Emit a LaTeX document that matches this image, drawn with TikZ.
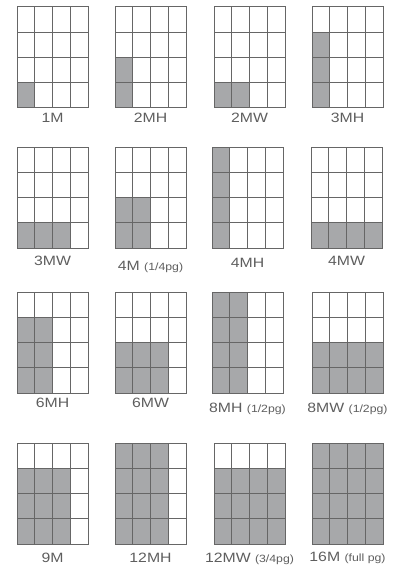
\documentclass[tikz,border=0pt]{standalone}
\usepackage{fontspec}
\setmainfont{Liberation Sans}
\newfontfamily\labfont[FakeStretch=1.17]{Liberation Sans}
\definecolor{gridline}{HTML}{666666}
\definecolor{cellfill}{HTML}{A7A8AA}
\definecolor{labelgray}{HTML}{5E5E5E}
\tikzset{
  gridstroke/.style={draw=gridline, line width=1pt},
  filled/.style={fill=cellfill},
  lab/.style={anchor=base, inner sep=0pt, text=labelgray, font=\labfont\fontsize{13.5}{15}\selectfont},
}
\newcommand{\smallpg}[1]{{\fontsize{10.5}{12}\selectfont #1}}
% \panelbox{name}{left}{top}{wcols}{hrows}{label}{baseline}
\newcommand{\panelbox}[7]{%
  \begin{scope}[shift={(#2,#3)}]
    \fill[filled] (0,101) rectangle ({#4*17.75},{101-#5*25.25});
    \draw[gridstroke] (0,0) rectangle (71,101);
    \foreach \i in {1,2,3} {
      \draw[gridstroke] ({\i*17.75},0) -- ({\i*17.75},101);
      \draw[gridstroke] (0,{\i*25.25}) -- (71,{\i*25.25});
    }
  \end{scope}
  \node[lab] (#1) at ({#2+35.5},#7) {#6};
}
\begin{document}
\begin{tikzpicture}[x=1pt,y=-1pt]
\useasboundingbox (0,0) rectangle (398,567);
% row 1
\panelbox{p1m}{17}{7}{1}{1}{1M}{123}
\panelbox{p2mh}{115}{7}{1}{2}{2MH}{123}
\panelbox{p2mw}{214}{7}{2}{1}{2MW}{123}
\panelbox{p3mh}{312}{7}{1}{3}{3MH}{123}
% row 2
\panelbox{p3mw}{17}{147}{3}{1}{3MW}{265}
\panelbox{p4m}{115}{147}{2}{2}{4M \smallpg{(1/4pg)}}{270}
\panelbox{p4mh}{212}{147}{1}{4}{4MH}{267}
\panelbox{p4mw}{311}{147}{4}{1}{4MW}{265}
% row 3
\panelbox{p6mh}{17}{292}{2}{3}{6MH}{407}
\panelbox{p6mw}{115}{292}{3}{2}{6MW}{407}
\panelbox{p8mh}{212}{292}{2}{4}{8MH \smallpg{(1/2pg)}}{412}
\panelbox{p8mw}{312}{292}{4}{2}{8MW \smallpg{(1/2pg)}}{412}
% row 4
\panelbox{p9m}{17}{443}{3}{3}{9M}{562}
\panelbox{p12mh}{115}{443}{3}{4}{12MH}{562}
\panelbox{p12mw}{214}{443}{4}{3}{12MW \smallpg{(3/4pg)}}{562}
\panelbox{p16m}{312}{443}{4}{4}{16M \smallpg{(full pg)}}{561}
\end{tikzpicture}
\end{document}
